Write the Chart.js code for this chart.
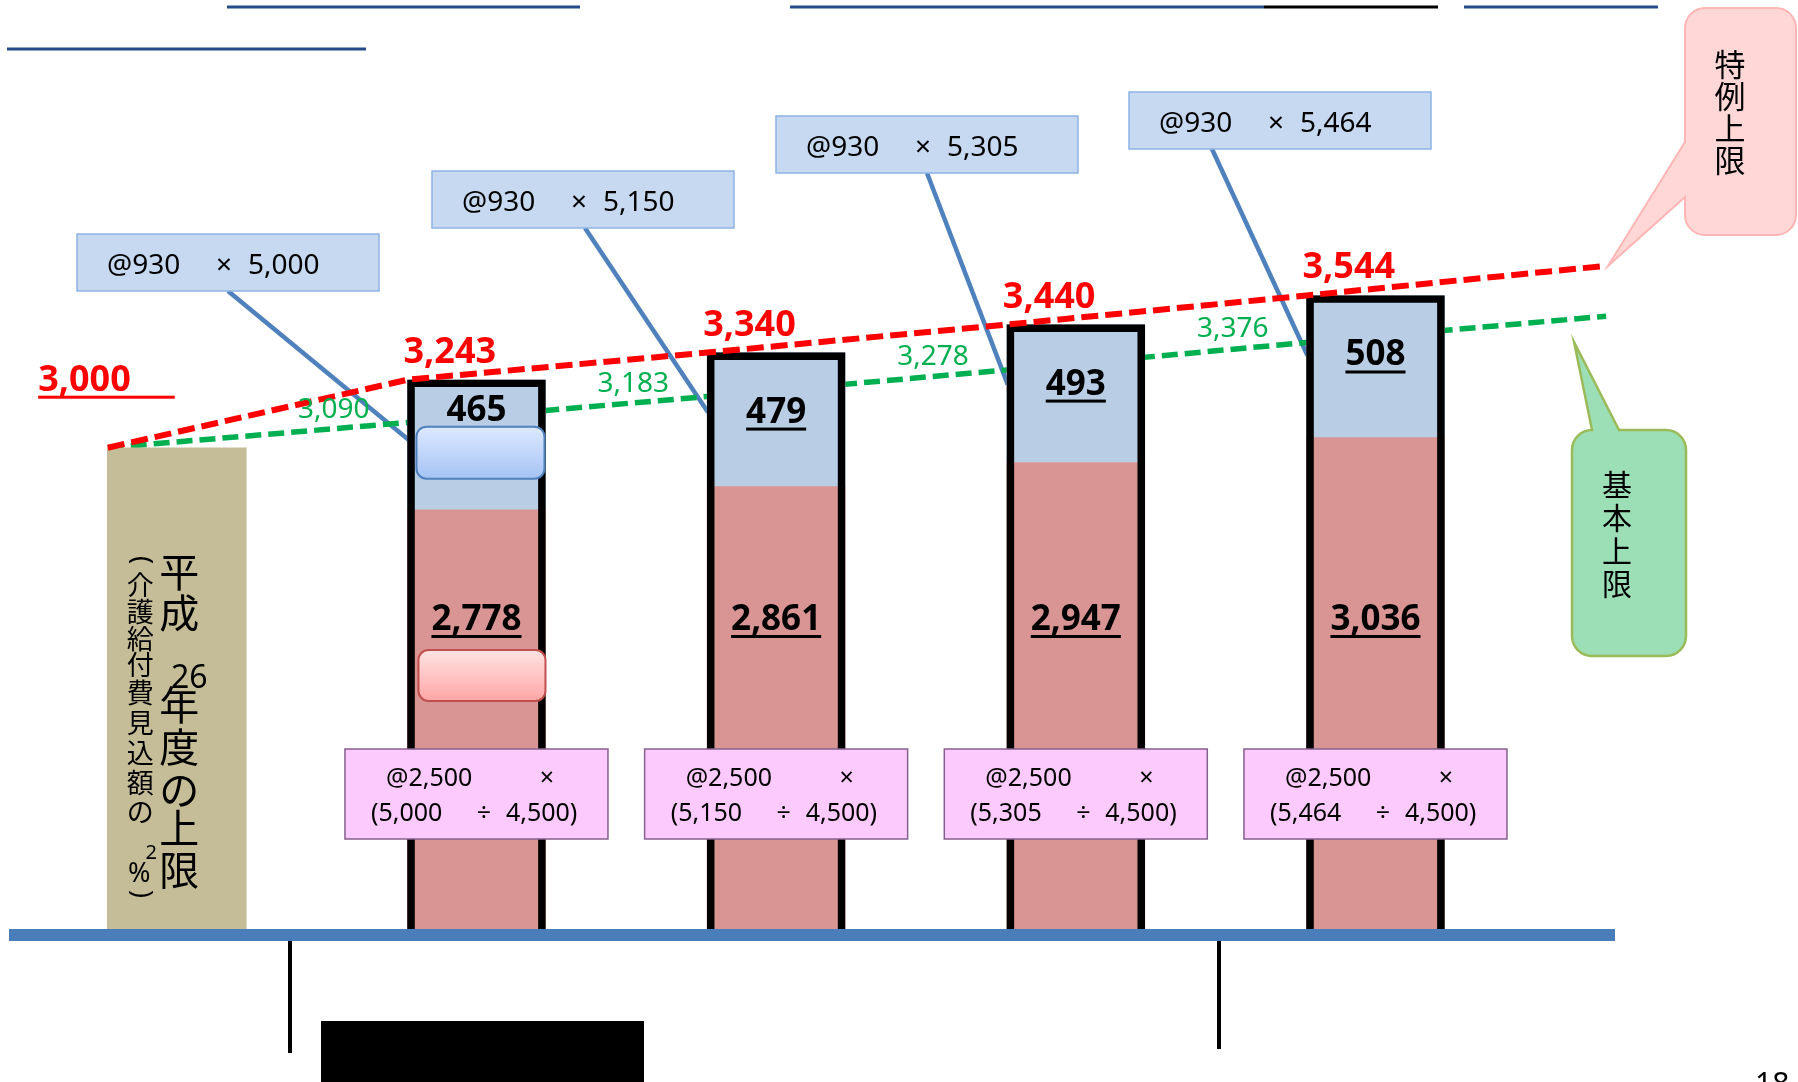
<!DOCTYPE html>
<html lang="ja">
<head>
<meta charset="utf-8">
<title>上限額の推移</title>
<script src="https://cdn.jsdelivr.net/npm/chart.js@4.4.1/dist/chart.umd.min.js"></script>
<style>
  html, body { margin: 0; padding: 0; background: #fff; }
  #wrap { width: 1798px; height: 1082px; overflow: hidden; }
</style>
</head>
<body>
<div id="wrap"><canvas id="chart" width="1798" height="1082"></canvas></div>
<script>
// 区分 (x軸のラベルは表示しない)
const periods = ['H26', 'Y1', 'Y2', 'Y3', 'Y4', 'end'];

// 平成26年度の上限 (介護給付費見込額の2%)
const baseLimit = [3000, null, null, null, null];
// 積み上げ棒: 下段 @2,500 × (見込額 ÷ 4,500) / 上段 @930 × 見込額
const lowerPart = [null, 2778, 2861, 2947, 3036];
const upperPart = [null, 465, 479, 493, 508];
// 特例上限 (赤破線) と 基本上限 (緑破線)
const specialLimit = [3000, 3243, 3340, 3440, 3544, 3650];
const basicLimit = [3000, 3090, 3183, 3278, 3376, 3470];

// 注記ボックス用
const estimates = ['5,000', '5,150', '5,305', '5,464'];
const upperUnit = '@930';
const lowerUnit = '@2,500';
const divisor = '4,500';

const barTotals = lowerPart.map((v, i) => v == null ? null : v + upperPart[i]);

// レイアウト
const X_MIN = -0.59, X_MAX = 5.41;
const Y_MIN = 1280, Y_MAX = 4600;
const BAR_W = 138;
const EDGE = (BAR_W / 2) / (1798 / (X_MAX - X_MIN)); // 線の頂点は棒の左端
const CLIP_BOTTOM = { left: false, top: false, right: false, bottom: 0 };

const NUM = '"Noto Sans", "DejaVu Sans", sans-serif';
const JP = '"Noto Sans CJK JP", "Noto Sans", sans-serif';

const blueBoxes = [[77, 234], [432, 171], [776, 116], [1129, 92]];
const boxAnchor = [151, 153, 151, 83];

const toPoints = arr => arr.map((v, i) => ({ x: i, y: v })).filter(p => p.y != null);
const toLine = arr => arr.map((v, i) => ({ x: i - EDGE, y: v }));

function seg(ctx, x1, y1, x2, y2) {
    ctx.beginPath();
    ctx.moveTo(x1, y1);
    ctx.lineTo(x2, y2);
    ctx.stroke();
}

function roundRect(ctx, x, y, w, h, r) {
    ctx.beginPath();
    ctx.moveTo(x + r, y);
    ctx.arcTo(x + w, y, x + w, y + h, r);
    ctx.arcTo(x + w, y + h, x, y + h, r);
    ctx.arcTo(x, y + h, x, y, r);
    ctx.arcTo(x, y, x + w, y, r);
    ctx.closePath();
}

function text(ctx, str, x, y, font, color, align, underline) {
    ctx.font = font;
    ctx.fillStyle = color;
    ctx.textAlign = align || 'left';
    ctx.textBaseline = 'alphabetic';
    ctx.fillText(str, x, y);
    if (underline) {
        const w = ctx.measureText(str).width;
        const x0 = align === 'center' ? x - w / 2 : align === 'right' ? x - w : x;
        ctx.fillRect(x0, y + 5, w, 3);
    }
}

function mid(ctx, str, x, y, font, color) {
    ctx.font = font;
    ctx.fillStyle = color;
    ctx.textAlign = 'center';
    ctx.textBaseline = 'middle';
    ctx.fillText(str, x, y);
}

function gradBox(ctx, x, y, w, h, c1, c2, stroke) {
    const g = ctx.createLinearGradient(0, y, 0, y + h);
    g.addColorStop(0, c1);
    g.addColorStop(1, c2);
    roundRect(ctx, x, y, w, h, 10);
    ctx.fillStyle = g;
    ctx.fill();
    ctx.lineWidth = 2;
    ctx.strokeStyle = stroke;
    ctx.stroke();
}

const slideDecor = {
    id: 'slideDecor',
    beforeDatasetsDraw(chart) {
        const ctx = chart.ctx;
        ctx.save();
        // 上部の下線
        ctx.lineWidth = 3;
        ctx.strokeStyle = '#254A8A';
        seg(ctx, 227, 7, 580, 7);
        seg(ctx, 7, 49, 366, 49);
        seg(ctx, 790, 7, 1264, 7);
        seg(ctx, 1464, 7, 1658, 7);
        ctx.strokeStyle = '#000';
        seg(ctx, 1264, 7, 1438, 7);

        // 注記ボックスから棒への線
        const outline = chart.getDatasetMeta(3).data;
        ctx.strokeStyle = '#4F81BD';
        ctx.lineWidth = 4.5;
        blueBoxes.forEach((b, j) => {
            const el = outline[j];
            seg(ctx, b[0] + boxAnchor[j], b[1] + 57, el.x - el.width / 2 + 1, el.y + 60);
        });
        ctx.restore();
    },
    afterDatasetsDraw(chart) {
        const ctx = chart.ctx;
        const area = chart.chartArea;
        const khaki = chart.getDatasetMeta(0).data[0];
        const lower = chart.getDatasetMeta(1).data;
        const upper = chart.getDatasetMeta(2).data;
        const outline = chart.getDatasetMeta(3).data;
        const red = chart.getDatasetMeta(4).data;
        const green = chart.getDatasetMeta(5).data;
        ctx.save();

        // 基線
        ctx.fillStyle = '#4A7EBB';
        ctx.fillRect(9, area.bottom, 1606, 12);

        // 下部の線と黒塗り
        ctx.strokeStyle = '#000';
        ctx.lineWidth = 4;
        seg(ctx, 290, area.bottom + 12, 290, 1053);
        seg(ctx, 1219, area.bottom + 12, 1219, 1049);
        ctx.fillStyle = '#000';
        ctx.fillRect(321, 1021, 323, 61);
        text(ctx, '18', 1755, 1094, '30px ' + NUM, '#000');

        // 棒の中の数値
        const redLabelY = area.bottom - 299;
        lower.forEach((el, j) => {
            const v = lowerPart[j + 1].toLocaleString('en-US');
            text(ctx, v, el.x, redLabelY, 'bold 35px ' + NUM, '#000', 'center', true);
        });
        upper.forEach((el, j) => {
            const v = String(upperPart[j + 1]);
            if (j === 0) {
                text(ctx, v, el.x, el.y + 41, 'bold 35px ' + NUM, '#000', 'center', false);
            } else {
                text(ctx, v, el.x, el.y + 70, 'bold 35px ' + NUM, '#000', 'center', true);
            }
        });

        // 1本目の棒の飾りボックス
        const b1 = upper[0];
        const b1l = b1.x - b1.width / 2;
        gradBox(ctx, b1l + 9, b1.y + 47, 128, 52, '#DDE9FF', '#A5C3F5', '#4F81BD');
        gradBox(ctx, b1l + 11, redLabelY + 20, 127, 51, '#FFE3E3', '#FFA6A6', '#C0504D');

        // 特例上限のラベル
        red.forEach((p, k) => {
            if (k >= 5) return;
            const v = specialLimit[k].toLocaleString('en-US');
            if (k === 0) {
                text(ctx, v, p.x + 23, p.y - 57, 'bold 36px ' + NUM, '#FF0000', 'right');
                ctx.font = 'bold 36px ' + NUM;
                const w = ctx.measureText(v).width;
                ctx.fillRect(p.x + 23 - w, p.y - 52, w + 44, 3);
            } else {
                text(ctx, v, p.x - 4, p.y - 17, 'bold 36px ' + NUM, '#FF0000', 'left');
            }
        });
        // 基本上限のラベル
        green.forEach((p, k) => {
            if (k < 1 || k >= 5) return;
            text(ctx, basicLimit[k].toLocaleString('en-US'), p.x - 38, p.y - 5, '28px ' + NUM, '#00B050', 'right');
        });

        // @930 のボックス
        blueBoxes.forEach((b, j) => {
            ctx.fillStyle = '#C6D9F1';
            ctx.fillRect(b[0], b[1], 302, 57);
            ctx.strokeStyle = '#8DB3E2';
            ctx.lineWidth = 1.5;
            ctx.strokeRect(b[0], b[1], 302, 57);
            const f = '28px ' + NUM;
            text(ctx, upperUnit, b[0] + 30, b[1] + 40, f, '#000', 'left');
            text(ctx, '×', b[0] + 147, b[1] + 40, f, '#000', 'center');
            text(ctx, estimates[j], b[0] + 171, b[1] + 40, f, '#000', 'left');
        });

        // @2,500 のボックス
        outline.forEach((el, j) => {
            const l = el.x - 131.5, t = 749;
            ctx.fillStyle = '#FCCAFC';
            ctx.fillRect(l, t, 263, 90);
            ctx.strokeStyle = '#86608E';
            ctx.lineWidth = 1.5;
            ctx.strokeRect(l, t, 263, 90);
            const f = '25px ' + NUM;
            text(ctx, lowerUnit, l + 41, t + 37, f, '#000', 'left');
            text(ctx, '×', l + 202, t + 37, f, '#000', 'center');
            text(ctx, '(' + estimates[j], l + 26, t + 72, f, '#000', 'left');
            text(ctx, '÷', l + 139, t + 72, f, '#000', 'center');
            text(ctx, divisor + ')', l + 161, t + 72, f, '#000', 'left');
        });

        // 平成26年度の上限 (縦書き)
        const kl = khaki.x - khaki.width / 2;
        const big = [['平', 572], ['成', 613], ['年', 705], ['度', 747], ['の', 790], ['上', 828], ['限', 870]];
        big.forEach(([c, y]) => mid(ctx, c, kl + 72, y, '40px ' + JP, '#000'));
        mid(ctx, '26', kl + 82, 679, '32px ' + NUM, '#000');
        const small = [['介', 585], ['護', 612], ['給', 639], ['付', 665], ['費', 693], ['見', 723], ['込', 753], ['額', 783], ['の', 812]];
        small.forEach(([c, y]) => mid(ctx, c, kl + 33, y, '27px ' + JP, '#000'));
        mid(ctx, '2', kl + 44, 853, '20px ' + NUM, '#000');
        mid(ctx, '%', kl + 32, 874, '27px ' + NUM, '#000');
        [['(', 560], [')', 894]].forEach(([c, y]) => {
            ctx.save();
            ctx.translate(kl + 33, y);
            ctx.rotate(Math.PI / 2);
            mid(ctx, c, 0, 0, '27px ' + NUM, '#000');
            ctx.restore();
        });

        // 吹き出し: 特例上限
        const rEnd = red[red.length - 1];
        let x = 1685, y = 8, w = 111, h = 227, r = 20;
        ctx.beginPath();
        ctx.moveTo(x + r, y);
        ctx.arcTo(x + w, y, x + w, y + h, r);
        ctx.arcTo(x + w, y + h, x, y + h, r);
        ctx.arcTo(x, y + h, x, y, r);
        ctx.lineTo(x, 197);
        ctx.lineTo(rEnd.x + 2, rEnd.y);
        ctx.lineTo(x, 142);
        ctx.arcTo(x, y, x + w, y, r);
        ctx.closePath();
        ctx.fillStyle = '#FFD7D7';
        ctx.fill();
        ctx.strokeStyle = '#FFB5B5';
        ctx.lineWidth = 2;
        ctx.stroke();
        ['特', '例', '上', '限'].forEach((c, k) => mid(ctx, c, 1730, 64 + k * 32, '31px ' + JP, '#000'));

        // 吹き出し: 基本上限
        const gEnd = green[green.length - 1];
        x = 1572; y = 430; w = 114; h = 226; r = 20;
        ctx.beginPath();
        ctx.moveTo(x + r, y);
        ctx.lineTo(1592, y);
        ctx.lineTo(gEnd.x - 32, gEnd.y + 26);
        ctx.lineTo(1619, y);
        ctx.arcTo(x + w, y, x + w, y + h, r);
        ctx.arcTo(x + w, y + h, x, y + h, r);
        ctx.arcTo(x, y + h, x, y, r);
        ctx.arcTo(x, y, x + w, y, r);
        ctx.closePath();
        ctx.fillStyle = '#9CDFB6';
        ctx.fill();
        ctx.strokeStyle = '#9BBB59';
        ctx.lineWidth = 2.5;
        ctx.stroke();
        ['基', '本', '上', '限'].forEach((c, k) => mid(ctx, c, 1617, 485 + k * 33, '30px ' + JP, '#000'));

        ctx.restore();
    }
};

const barCommon = { grouped: false, borderWidth: 0, barThickness: BAR_W, clip: CLIP_BOTTOM };

new Chart(document.getElementById('chart'), {
    type: 'bar',
    data: {
        labels: periods,
        datasets: [
            {
                ...barCommon,
                label: '平成26年度の上限',
                data: toPoints(baseLimit),
                backgroundColor: '#C4BD97',
                barThickness: 139,
                stack: 'main',
                order: 4
            },
            {
                ...barCommon,
                label: '@2,500 × (見込額 ÷ 4,500)',
                data: toPoints(lowerPart),
                backgroundColor: '#D99594',
                stack: 'main',
                order: 2
            },
            {
                ...barCommon,
                label: '@930 × 見込額',
                data: toPoints(upperPart),
                backgroundColor: '#B9CDE5',
                stack: 'main',
                order: 3
            },
            {
                ...barCommon,
                label: '合計',
                data: toPoints(barTotals),
                xAxisID: 'xo',
                backgroundColor: 'rgba(0,0,0,0)',
                borderColor: '#000',
                borderWidth: 7,
                stack: 'outline',
                order: 1
            },
            {
                type: 'line',
                label: '特例上限',
                data: toLine(specialLimit),
                xAxisID: 'x',
                yAxisID: 'yl',
                borderColor: '#FF0000',
                borderWidth: 6,
                borderDash: [17, 7],
                pointRadius: 0,
                tension: 0,
                fill: false,
                order: 0,
                clip: false
            },
            {
                type: 'line',
                label: '基本上限',
                data: toLine(basicLimit),
                xAxisID: 'x',
                yAxisID: 'yl',
                borderColor: '#00B050',
                borderWidth: 5.5,
                borderDash: [16, 7],
                pointRadius: 0,
                tension: 0,
                fill: false,
                order: 5,
                clip: false
            }
        ]
    },
    options: {
        responsive: false,
        devicePixelRatio: 1,
        animation: false,
        layout: { padding: { top: 0, left: 0, right: 0, bottom: 153 } },
        plugins: {
            legend: { display: false },
            tooltip: { enabled: false }
        },
        scales: {
            x: { type: 'linear', min: X_MIN, max: X_MAX, offset: false, stacked: true, display: false },
            xo: { type: 'linear', axis: 'x', min: X_MIN, max: X_MAX, offset: false, display: false },
            y: { type: 'linear', min: Y_MIN, max: Y_MAX, stacked: true, display: false },
            yl: { type: 'linear', axis: 'y', min: Y_MIN, max: Y_MAX, display: false }
        }
    },
    plugins: [slideDecor]
});
</script>
</body>
</html>
